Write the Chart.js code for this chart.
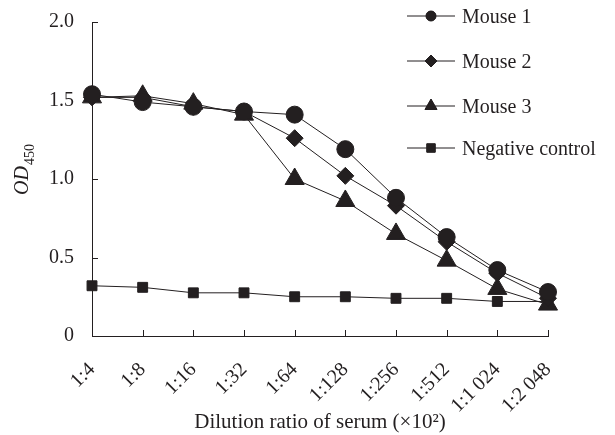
<!DOCTYPE html>
<html>
<head>
<meta charset="utf-8">
<script src="https://cdn.jsdelivr.net/npm/chart.js@4/dist/chart.umd.min.js"></script>
<style>
  html, body { margin: 0; padding: 0; background: #fff; }
  #wrap { width: 615px; height: 435px; }
</style>
</head>
<body>
<div id="wrap"><canvas id="odChart" width="615" height="435"></canvas></div>
<script>
const dilutions = ['1:4', '1:8', '1:16', '1:32', '1:64', '1:128', '1:256', '1:512', '1:1 024', '1:2 048'];
const mouse1 = [1.54, 1.49, 1.46, 1.43, 1.41, 1.19, 0.88, 0.63, 0.42, 0.28];
const mouse2 = [1.52, 1.52, 1.46, 1.43, 1.26, 1.02, 0.83, 0.60, 0.40, 0.24];
const mouse3 = [1.52, 1.53, 1.48, 1.41, 1.00, 0.86, 0.65, 0.48, 0.30, 0.20];
const negControl = [0.32, 0.31, 0.275, 0.275, 0.25, 0.25, 0.24, 0.24, 0.22, 0.22];
const yTicks = [0, 0.5, 1.0, 1.5, 2.0];

const ink = '#231f20';
const serif = "'Liberation Serif', 'Times New Roman', serif";

// legend drawn by hand: line with marker through it, like the figure
const legendPlugin = {
  id: 'lineLegend',
  afterDraw(chart) {
    const ctx = chart.ctx;
    const rows = [16, 61, 106, 148];
    const sizes = [5, 6, 7, 6];
    ctx.save();
    chart.data.datasets.forEach((ds, i) => {
      const y = rows[i];
      ctx.strokeStyle = ink;
      ctx.lineWidth = 1;
      ctx.beginPath();
      ctx.moveTo(407, y);
      ctx.lineTo(455, y);
      ctx.stroke();
      ctx.fillStyle = ink;
      Chart.helpers.drawPoint(ctx, {pointStyle: ds.pointStyle, radius: sizes[i], rotation: 0, borderWidth: 1}, 431, y);
      ctx.fill();
      ctx.font = '20px ' + serif;
      ctx.textBaseline = 'middle';
      ctx.textAlign = 'left';
      ctx.fillText(ds.label, 462, y + 2);
    });
    ctx.restore();
  }
};

// inward tick marks and the OD450 axis title
const axisExtras = {
  id: 'axisExtras',
  afterDraw(chart) {
    const ctx = chart.ctx;
    const xs = chart.scales.x, ys = chart.scales.y;
    const area = chart.chartArea;
    ctx.save();
    ctx.strokeStyle = ink;
    ctx.lineWidth = 1;
    ctx.beginPath();
    for (let i = 1; i < dilutions.length; i++) {
      const x = Math.round(xs.getPixelForTick(i)) + 0.5;
      ctx.moveTo(x, area.bottom);
      ctx.lineTo(x, area.bottom - 6);
    }
    yTicks.forEach(v => {
      if (v === 0) return;
      const y = Math.round(ys.getPixelForValue(v)) + 0.5;
      ctx.moveTo(area.left, y);
      ctx.lineTo(area.left + 6, y);
    });
    ctx.stroke();

    ctx.translate(28, 170);
    ctx.rotate(-Math.PI / 2);
    ctx.fillStyle = ink;
    ctx.textBaseline = 'alphabetic';
    ctx.textAlign = 'left';
    const big = 'italic 20px ' + serif, small = '14px ' + serif;
    ctx.font = big;
    const w1 = ctx.measureText('OD').width;
    ctx.font = small;
    const w2 = ctx.measureText('450').width;
    const x0 = -(w1 + w2) / 2;
    ctx.font = big;
    ctx.fillText('OD', x0, 0);
    ctx.font = small;
    ctx.fillText('450', x0 + w1 + 1, 6);
    ctx.restore();
  }
};

function makeSet(label, data, style, radius) {
  return {
    label: label,
    data: data,
    pointStyle: style,
    pointRadius: radius,
    pointBackgroundColor: ink,
    pointBorderColor: ink,
    pointBorderWidth: 1,
    borderColor: ink,
    borderWidth: 1,
    fill: false,
    tension: 0
  };
}

new Chart(document.getElementById('odChart'), {
  type: 'line',
  data: {
    labels: dilutions,
    datasets: [
      makeSet('Mouse 1', mouse1, 'circle', 8.5),
      makeSet('Mouse 2', mouse2, 'rectRot', 8.5),
      makeSet('Mouse 3', mouse3, 'triangle', 11),
      makeSet('Negative control', negControl, 'rect', 7)
    ]
  },
  options: {
    responsive: false,
    animation: false,
    layout: { padding: { left: 40, right: 67, top: 11, bottom: 0 } },
    scales: {
      x: {
        offset: false,
        grid: { display: false },
        border: { display: true, color: ink, width: 1 },
        afterFit: scale => { scale.height = 99; },
        ticks: {
          autoSkip: false,
          minRotation: 45,
          maxRotation: 45,
          padding: 14,
          color: ink,
          font: { family: serif, size: 20 }
        },
        title: {
          display: true,
          text: 'Dilution ratio of serum (×10²)',
          color: ink,
          font: { family: serif, size: 21 },
          padding: { top: 4, bottom: 0 }
        }
      },
      y: {
        min: 0,
        max: 2,
        grid: { display: false },
        border: { display: true, color: ink, width: 1 },
        afterFit: scale => { scale.width = 52; },
        afterBuildTicks: axis => { axis.ticks = yTicks.map(v => ({ value: v })); },
        ticks: {
          padding: 10,
          color: ink,
          font: { family: serif, size: 20 },
          callback: v => v === 0 ? '0' : v.toFixed(1)
        }
      }
    },
    plugins: {
      legend: { display: false },
      tooltip: { enabled: false }
    }
  },
  plugins: [legendPlugin, axisExtras]
});
</script>
</body>
</html>
